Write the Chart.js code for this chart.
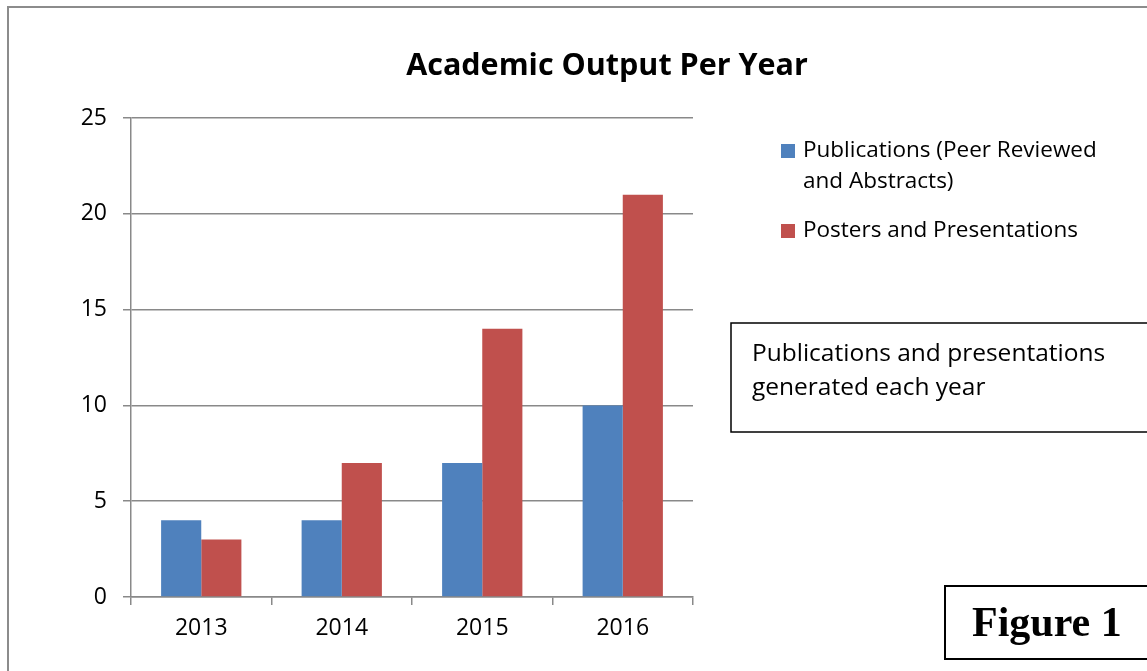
<!DOCTYPE html>
<html>
<head>
<meta charset="utf-8">
<script src="https://cdn.jsdelivr.net/npm/chart.js@4/dist/chart.umd.min.js"></script>
<style>
	html, body { margin: 0; padding: 0; background: #fff; }
	#wrap { position: relative; width: 1147px; height: 671px; overflow: hidden; }
</style>
</head>
<body>
<div id="wrap"><canvas id="output-chart" width="1147" height="671"></canvas></div>
<script>
'use strict';

var years = ['2013', '2014', '2015', '2016'];
var publications = [4, 4, 7, 10];
var posters = [3, 7, 14, 21];
var seriesNames = [['Publications (Peer Reviewed', 'and Abstracts)'], ['Posters and Presentations']];
var yTicks = [0, 5, 10, 15, 20, 25];

var chartTitle = 'Academic Output Per Year';
var noteLines = ['Publications and presentations', 'generated each year'];
var figureLabel = 'Figure 1';

var FONT = '"Open Sans", Calibri, Lato, sans-serif';
var GRID = '#898989';

// title, legend, note box and figure box drawn on the canvas
var extrasPlugin = {
	id: 'extras',
	afterDraw: function(chart) {
		var ctx = chart.ctx;
		ctx.save();

		// outer chart border
		ctx.strokeStyle = '#8c8c8c';
		ctx.lineWidth = 2;
		ctx.strokeRect(8, 7, 1400, 900);

		// title
		ctx.fillStyle = '#000';
		ctx.font = 'bold 30.5px ' + FONT;
		ctx.textAlign = 'center';
		ctx.textBaseline = 'alphabetic';
		ctx.fillText(chartTitle, 607, 75);

		// legend
		ctx.textAlign = 'left';
		ctx.textBaseline = 'middle';
		ctx.font = '22.5px ' + FONT;
		var y = 151;
		chart.data.datasets.forEach(function(ds, i) {
			ctx.fillStyle = ds.backgroundColor;
			ctx.fillRect(781, y - 7, 14, 14);
			ctx.fillStyle = '#000';
			seriesNames[i].forEach(function(line, j) {
				ctx.fillText(line, 803, y + j * 31);
			});
			y += seriesNames[i].length * 31 + 18;
		});

		// note box
		ctx.strokeStyle = '#000';
		ctx.lineWidth = 1.5;
		ctx.strokeRect(731, 323, 500, 109);
		ctx.fillStyle = '#000';
		ctx.font = '24.5px ' + FONT;
		noteLines.forEach(function(line, j) {
			ctx.fillText(line, 752, 354 + j * 34);
		});

		// figure box
		ctx.lineWidth = 2;
		ctx.strokeRect(945, 586, 400, 73);
		ctx.font = 'bold 42px "Liberation Serif", "Times New Roman", serif';
		ctx.textBaseline = 'alphabetic';
		ctx.fillText(figureLabel, 972, 636);

		ctx.restore();
	}
};

var outputConfig = {
	type: 'bar',
	data: {
		labels: years,
		datasets: [{
			label: seriesNames[0].join(' '),
			data: publications,
			backgroundColor: '#4f81bd'
		}, {
			label: seriesNames[1].join(' '),
			data: posters,
			backgroundColor: '#c0504d'
		}]
	},
	options: {
		responsive: false,
		animation: false,
		layout: { padding: { left: 0, top: 118, right: 454, bottom: 0 } },
		datasets: {
			bar: { categoryPercentage: 0.5714, barPercentage: 1.0 }
		},
		plugins: {
			legend: { display: false },
			title: { display: false },
			tooltip: { enabled: false }
		},
		scales: {
			x: {
				grid: { offset: true, drawOnChartArea: false, drawTicks: true, tickLength: 8, color: GRID, lineWidth: 1.5 },
				border: { display: true, color: GRID, width: 1.5 },
				ticks: { color: '#000', font: { family: FONT, size: 23 }, padding: 10 },
				afterFit: function(scale) { scale.height = 74; }
			},
			y: {
				min: 0,
				max: 25,
				afterBuildTicks: function(scale) {
					scale.ticks = yTicks.map(function(v) { return { value: v }; });
				},
				grid: { drawTicks: true, tickLength: 8, color: GRID, lineWidth: 1.5 },
				border: { display: true, color: GRID, width: 1.5 },
				ticks: { color: '#000', font: { family: FONT, size: 23 }, padding: 16 },
				afterFit: function(scale) { scale.width = 131; }
			}
		}
	},
	plugins: [extrasPlugin]
};

var outputChart = new Chart(document.getElementById('output-chart').getContext('2d'), outputConfig);
</script>
</body>
</html>
